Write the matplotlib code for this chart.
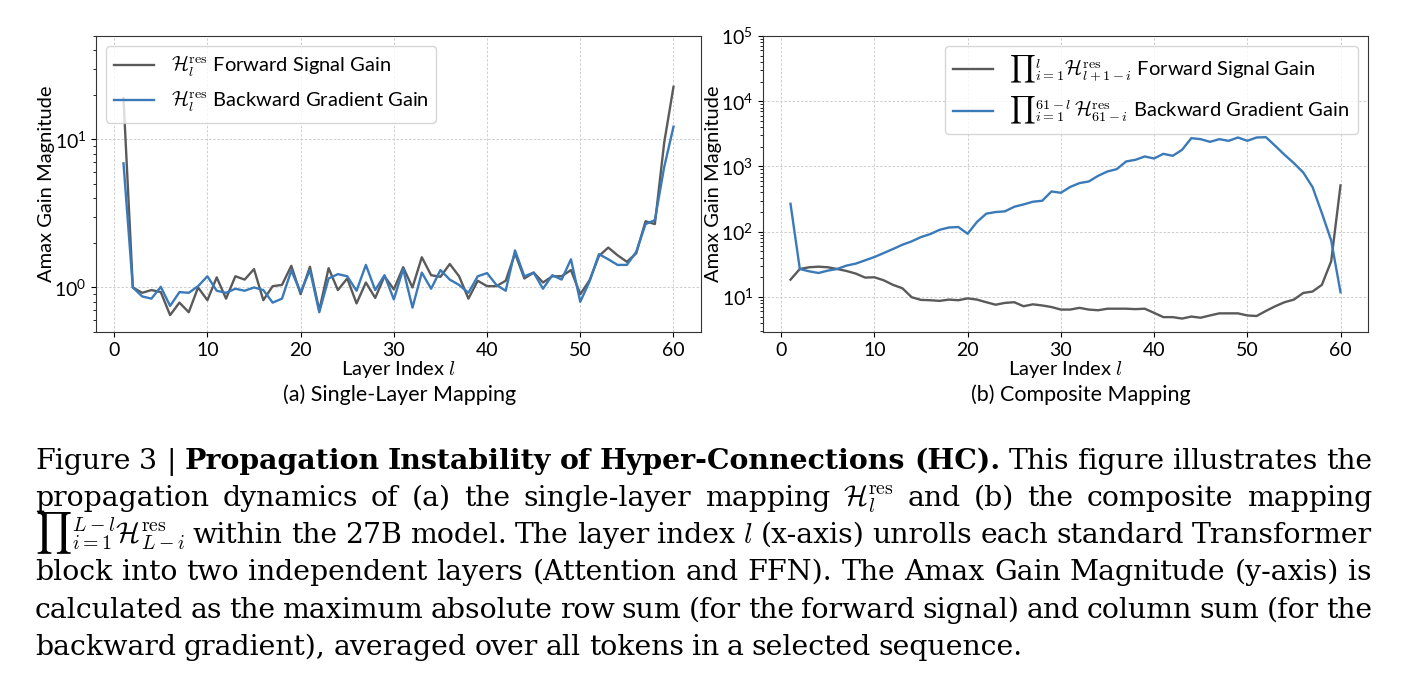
import numpy as np
import matplotlib
matplotlib.use('Agg')
import matplotlib.pyplot as plt
from matplotlib.ticker import FuncFormatter, LogLocator, NullFormatter

# ---- data ----
layers = np.arange(1, 61)

single_fwd = [19.0, 1.0, 0.92, 0.96, 0.93, 0.65, 0.79, 0.68, 1.0, 0.82,
              1.17, 0.84, 1.19, 1.13, 1.33, 0.82, 1.02, 1.04, 1.40, 0.90,
              1.38, 0.70, 1.35, 0.96, 1.15, 0.78, 1.08, 0.85, 1.19, 0.97,
              1.37, 1.00, 1.60, 1.21, 1.18, 1.44, 1.19, 0.84, 1.11, 1.02,
              1.02, 1.11, 1.70, 1.15, 1.26, 1.08, 1.19, 1.19, 1.31, 0.90,
              1.12, 1.63, 1.86, 1.65, 1.49, 1.70, 2.80, 2.68, 9.5, 22.7]
single_bwd = [6.9, 1.0, 0.87, 0.84, 1.01, 0.75, 0.93, 0.92, 1.02, 1.19,
              0.95, 0.92, 0.98, 0.95, 1.00, 0.96, 0.79, 0.84, 1.30, 0.93,
              1.31, 0.68, 1.15, 1.23, 1.19, 0.95, 1.42, 0.96, 1.21, 0.83,
              1.33, 0.73, 1.26, 0.98, 1.31, 1.13, 1.04, 0.92, 1.19, 1.25,
              1.04, 0.95, 1.78, 1.19, 1.26, 0.98, 1.21, 1.13, 1.55, 0.80,
              1.10, 1.68, 1.55, 1.42, 1.42, 1.74, 2.68, 2.85, 6.5, 12.2]

comp_fwd = [18.4, 26.8, 28.5, 29.1, 28.5, 26.8, 25.0, 22.8, 19.8, 20.0,
            18.0, 15.3, 13.6, 9.9, 9.0, 8.9, 8.7, 9.1, 8.9, 9.5,
            9.1, 8.3, 7.6, 8.1, 8.3, 7.2, 7.7, 7.4, 7.0, 6.4,
            6.4, 6.8, 6.4, 6.25, 6.6, 6.6, 6.6, 6.5, 6.6, 5.7,
            4.9, 4.9, 4.66, 5.0, 4.8, 5.2, 5.6, 5.6, 5.6, 5.2,
            5.1, 6.1, 7.2, 8.3, 9.1, 11.5, 12.1, 15.3, 35.2, 512]
comp_bwd = [268, 26.8, 24.7, 23.3, 25.3, 26.8, 30.2, 32.4, 36.4, 40.9,
            47.1, 54.3, 63.1, 71.1, 82.8, 92, 107, 116, 118, 93,
            141, 189, 200, 205, 241, 262, 288, 298, 414, 395,
            485, 556, 589, 719, 838, 910, 1193, 1265, 1423, 1325,
            1563, 1456, 1799, 2716, 2620, 2386, 2620, 2472, 2780, 2472,
            2780, 2812, 2069, 1509, 1125, 810, 483, 193, 73.6, 11.8]

x_ticks = [0, 10, 20, 30, 40, 50, 60]

labels_a = [r'$\mathcal{H}_l^{\mathrm{res}}$ Forward Signal Gain',
            r'$\mathcal{H}_l^{\mathrm{res}}$ Backward Gradient Gain']
labels_b = [r'${\prod}_{i=1}^{l}\mathcal{H}_{l+1-i}^{\mathrm{res}}$ Forward Signal Gain',
            r'${\prod}_{i=1}^{61-l}\,\mathcal{H}_{61-i}^{\mathrm{res}}$ Backward Gradient Gain']

caption_lines = [
    [("Figure 3 |", "normal"),
     ("Propagation Instability of Hyper-Connections (HC).", "bold"),
     ("This figure illustrates the", "normal")],
    [("propagation dynamics of (a) the single-layer mapping", "normal"),
     (r"$\mathcal{H}_l^{\mathrm{res}}$", "math"),
     ("and (b) the composite mapping", "normal")],
    [(r"${\prod}_{i=1}^{L-l}\mathcal{H}_{L-i}^{\mathrm{res}}$", "math"),
     ("within the 27B model. The layer index", "normal"),
     (r"$l$", "math"),
     ("(x-axis) unrolls each standard Transformer", "normal")],
    [("block into two independent layers (Attention and FFN). The Amax Gain Magnitude (y-axis) is", "normal")],
    [("calculated as the maximum absolute row sum (for the forward signal) and column sum (for the", "normal")],
    [("backward gradient), averaged over all tokens in a selected sequence.", "normal")],
]

gray = '#5a5a5a'
blue = '#3a7ab8'

plt.rcParams['font.family'] = ['Lato', 'DejaVu Sans']
plt.rcParams['mathtext.fontset'] = 'cm'

W, H = 1404, 698
fig = plt.figure(figsize=(W / 100, H / 100), dpi=100)


def box(x0, y0, x1, y1):
    return [x0 / W, 1 - y1 / H, (x1 - x0) / W, (y1 - y0) / H]


def sci(v, pos):
    return r'$\mathregular{10^{%d}}$' % int(round(np.log10(v)))


ax1 = fig.add_axes(box(96, 36, 701, 332))
ax2 = fig.add_axes(box(763, 36, 1368, 332))

ax1.plot(layers, single_fwd, color=gray, lw=1.7, label=labels_a[0])
ax1.plot(layers, single_bwd, color=blue, lw=1.7, label=labels_a[1])
ax1.set_ylim(0.5, 50)

ax2.plot(layers, comp_fwd, color=gray, lw=1.7, label=labels_b[0])
ax2.plot(layers, comp_bwd, color=blue, lw=1.7, label=labels_b[1])
ax2.set_ylim(2.9, 1e5)

for ax in (ax1, ax2):
    ax.set_yscale('log')
    ax.set_xlim(-1.95, 62.95)
    ax.set_xticks(x_ticks)
    ax.yaxis.set_major_locator(LogLocator(base=10))
    ax.yaxis.set_major_formatter(FuncFormatter(sci))
    ax.yaxis.set_minor_formatter(NullFormatter())
    ax.tick_params(labelsize=14)
    ax.grid(True, which='major', linestyle=(0, (3, 2)), linewidth=0.6, color='#c8c8c8')
    for s in ax.spines.values():
        s.set_color('#333333')
    ax.set_xlabel('Layer Index $l$', fontsize=14.5, labelpad=0)
    ax.set_ylabel('Amax Gain Magnitude', fontsize=14.5, va='center')

ax1.yaxis.set_label_coords((46 - 96) / 605, 0.5)
ax2.yaxis.set_label_coords((713 - 763) / 605, 0.5)
ax1.legend(loc='upper left', fontsize=14.5)
ax2.legend(loc='upper right', fontsize=14.5)

fig.text(400 / W, 1 - 395 / H, '(a) Single-Layer Mapping', fontsize=15.5,
         ha='center', va='center')
fig.text(1081 / W, 1 - 395 / H, '(b) Composite Mapping', fontsize=15.5,
         ha='center', va='center')

# ---- justified caption ----
cap_x0, cap_x1 = 35, 1372
baselines = [469, 506, 543, 580, 618, 655]
cap_size = 20.4
renderer = fig.canvas.get_renderer()

for i, line in enumerate(caption_lines):
    words = []
    for seg, style in line:
        if style == 'math':
            words.append((seg, 'normal'))
        else:
            for w in seg.split(' '):
                words.append((w, style))
    objs = []
    for w, wt in words:
        t = fig.text(0, 1 - baselines[i] / H, w, fontsize=cap_size,
                     fontweight=wt, family=['DejaVu Serif'],
                     ha='left', va='baseline')
        objs.append(t)
    widths = [t.get_window_extent(renderer).width for t in objs]
    if i < len(caption_lines) - 1:
        gap = (cap_x1 - cap_x0 - sum(widths)) / (len(objs) - 1)
    else:
        gap = cap_size * 100 / 72 * 0.28
    x = cap_x0
    for t, w in zip(objs, widths):
        t.set_x(x / W)
        x += w + gap

fig.savefig('out.png', dpi=100)
